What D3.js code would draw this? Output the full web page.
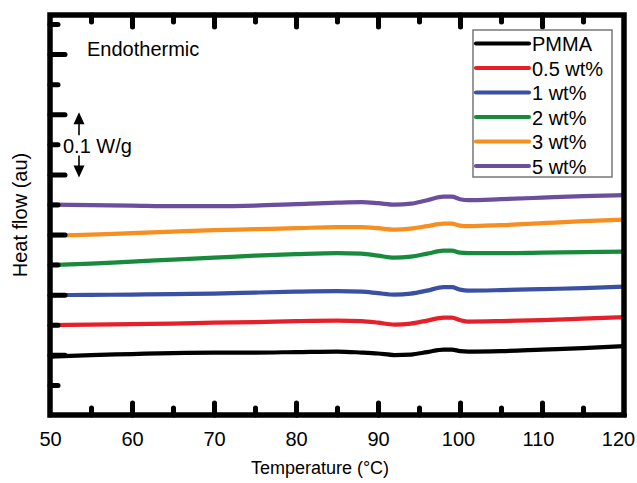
<!DOCTYPE html>
<html><head><meta charset="utf-8">
<script src="https://cdn.jsdelivr.net/npm/d3@7"></script>
<style>
body{margin:0;background:#fff}
text{font-family:"Liberation Sans",Arial,Helvetica,sans-serif;fill:#000}
</style>
</head><body>
<svg id="chart" width="637" height="483"></svg>
<script>
// Temperature (°C)
const temperature = [50,55,60,65,70,75,80,85,88,90,92,94,96,98,99,100,101,105,110,115,120];
// Heat flow, mW/g (arbitrary offset per curve)
const pmma = [97.2,99.7,101.3,103.0,103.8,103.8,104.6,105.5,103.8,102.2,99.7,100.5,104.6,108.8,108.8,106.3,105.5,106.3,108.8,111.3,114.6];
const wt05 = [149.5,150.3,151.2,152.0,153.6,154.5,156.1,157.0,156.1,153.6,150.3,152.0,157.0,161.9,161.9,157.8,155.3,156.1,157.8,160.3,162.8];
const wt1  = [199.3,199.7,200.2,201.0,201.8,203.5,205.1,206.0,205.1,202.6,200.2,201.8,206.8,212.6,212.6,208.5,206.8,207.6,209.3,210.9,213.4];
const wt2  = [249.2,251.6,255.0,258.3,261.6,264.9,267.4,269.1,268.3,264.9,261.6,263.3,268.3,273.2,273.2,269.9,269.1,269.1,269.9,270.7,271.6];
const wt3  = [298.1,299.8,302.3,304.8,307.3,308.9,310.6,312.3,312.3,310.6,308.1,309.8,313.9,318.1,318.1,314.8,313.9,315.6,318.9,322.2,324.7];
const wt5  = [349.6,348.8,348.0,347.1,347.1,348.0,350.5,353.0,353.8,352.1,349.6,351.3,357.1,362.9,362.9,358.8,357.1,358.8,361.3,363.8,365.4];

const seriesNames = ["PMMA","0.5 wt%","1 wt%","2 wt%","3 wt%","5 wt%"];
const seriesValues = [pmma, wt05, wt1, wt2, wt3, wt5];
const seriesColors = ["#000000","#e5202a","#3a50a2","#178b3b","#f68e20","#6b4e9d"];

const xMajorTicks = [50,60,70,80,90,100,110,120];
const xMinorTicks = [55,65,75,85,95,105,115];
const yMajorTicks = [100,200,300,400,500,600];
const yMinorTicks = [50,150,250,350,450,550,650];
const scaleBar = [400,500]; // 0.1 W/g

const svg = d3.select("#chart");
const L = 50, R = 624, T = 15, B = 415;
const x = d3.scaleLinear().domain([50,120]).range([L,R]);
const y = d3.scaleLinear().domain([0,665]).range([B,T]);

// curves
const line = d3.line().x(d=>x(d[0])).y(d=>y(d[1])).curve(d3.curveMonotoneX);
seriesValues.forEach((vals,i)=>{
  svg.append("path")
    .datum(temperature.map((t,j)=>[t,vals[j]]))
    .attr("d", line)
    .attr("fill","none")
    .attr("stroke", seriesColors[i])
    .attr("stroke-width",4.2)
    .attr("stroke-linejoin","round")
    .attr("stroke-linecap","round");
});

function styleAxis(g){
  g.select(".domain").remove();
  g.selectAll(".tick line").attr("stroke","#000").attr("stroke-width",5).attr("stroke-linecap","round");
  g.selectAll(".tick text").attr("font-size",20).attr("font-family","Liberation Sans, Arial, sans-serif").attr("fill","#000");
}

// bottom axis
svg.append("g").attr("transform",`translate(0,${B})`)
  .call(d3.axisBottom(x).tickValues(xMajorTicks.slice(1,-1)).tickSizeInner(-12).tickSizeOuter(0).tickFormat(""))
  .call(styleAxis);
svg.append("g").attr("transform",`translate(0,${B})`)
  .call(d3.axisBottom(x).tickValues(xMinorTicks).tickSizeInner(-7).tickSizeOuter(0).tickFormat(""))
  .call(styleAxis);
svg.append("g").attr("transform",`translate(0,${B})`)
  .call(d3.axisBottom(x).tickValues(xMajorTicks).tickSize(0).tickPadding(17).tickFormat(d3.format("d")))
  .call(styleAxis)
  .call(g=>g.selectAll(".tick text").attr("dx",d=>d>90 ? -(d-90)*0.2 : 0));
// top axis
svg.append("g").attr("transform",`translate(0,${T})`)
  .call(d3.axisTop(x).tickValues(xMajorTicks.slice(1,-1)).tickSizeInner(-12).tickSizeOuter(0).tickFormat(""))
  .call(styleAxis);
svg.append("g").attr("transform",`translate(0,${T})`)
  .call(d3.axisTop(x).tickValues(xMinorTicks).tickSizeInner(-7).tickSizeOuter(0).tickFormat(""))
  .call(styleAxis);
// left axis
svg.append("g").attr("transform",`translate(${L},0)`)
  .call(d3.axisLeft(y).tickValues(yMajorTicks).tickSizeInner(-15).tickSizeOuter(0).tickFormat(""))
  .call(styleAxis);
svg.append("g").attr("transform",`translate(${L},0)`)
  .call(d3.axisLeft(y).tickValues(yMinorTicks).tickSizeInner(-8).tickSizeOuter(0).tickFormat(""))
  .call(styleAxis);

// frame
svg.append("rect").attr("x",L).attr("y",T).attr("width",R-L).attr("height",B-T)
  .attr("fill","none").attr("stroke","#000").attr("stroke-width",5.5);

// axis titles
svg.append("text").attr("x",320).attr("y",474).attr("text-anchor","middle")
  .attr("font-size",18).text("Temperature (°C)");
svg.append("text").attr("transform",`translate(27,${(T+B)/2}) rotate(-90)`).attr("text-anchor","middle")
  .attr("font-size",20).text("Heat flow (au)");

// annotation
svg.append("text").attr("x",87).attr("y",56).attr("font-size",20).text("Endothermic");
const ax = 79, yTop = y(scaleBar[1]) - 2, yBot = y(scaleBar[0]) + 3;
svg.append("path").attr("d",`M${ax},${yTop}l-5.5,12h11z`).attr("fill","#000");
svg.append("line").attr("x1",ax).attr("x2",ax).attr("y1",yTop+11).attr("y2",yTop+23).attr("stroke","#000").attr("stroke-width",1.6);
svg.append("line").attr("x1",ax).attr("x2",ax).attr("y1",yBot-22).attr("y2",yBot-11).attr("stroke","#000").attr("stroke-width",1.6);
svg.append("path").attr("d",`M${ax},${yBot}l-5.5,-12h11z`).attr("fill","#000");
svg.append("text").attr("x",63).attr("y",153).attr("font-size",20).text("0.1 W/g");

// legend
const lg = svg.append("g");
lg.append("rect").attr("x",473).attr("y",30).attr("width",139).attr("height",147)
  .attr("fill","#fff").attr("stroke","#777").attr("stroke-width",1.5);
seriesNames.forEach((n,i)=>{
  const cy = 43.5 + i*24.5;
  lg.append("line").attr("x1",476).attr("x2",529).attr("y1",cy).attr("y2",cy)
    .attr("stroke",seriesColors[i]).attr("stroke-width",4.2).attr("stroke-linecap","round");
  lg.append("text").attr("x",532).attr("y",cy+7.5).attr("font-size",20).text(n);
});
</script>
</body></html>
